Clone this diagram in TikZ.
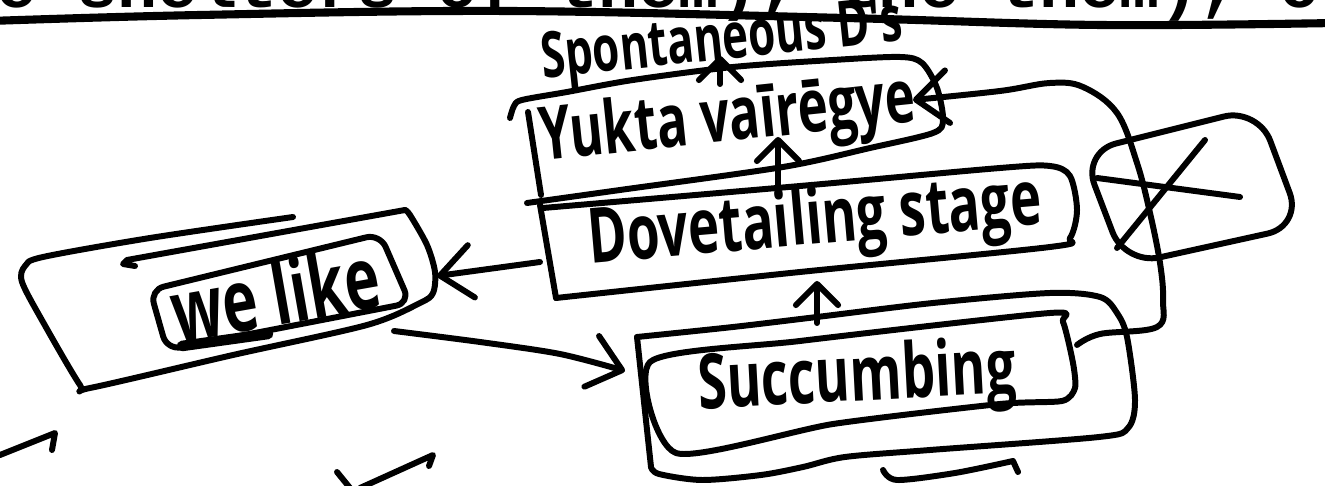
\documentclass[tikz,border=0pt]{standalone}
\usepackage{graphicx}
\usepackage{fontspec}
\usetikzlibrary{arrows.meta}
\newfontfamily\handfont{Open Sans}
\newfontfamily\printfont{Liberation Mono}
\newcommand{\tall}[1]{\scalebox{1}[1.45]{#1}}

\begin{document}
\begin{tikzpicture}[x=0.01cm, y=-0.01cm, line width=1.7pt, line cap=round, line join=round,
    hand/.style={font=\handfont\bfseries\fontsize{#1}{#1}\selectfont, inner sep=0pt},
    tip/.style={-{Straight Barb[round,length=6pt,width=12pt]}},
    bigtip/.style={-{Straight Barb[round,length=9pt,width=15pt]}}]

    \useasboundingbox (0,0) rectangle (1325,486);
    \clip (0,0) rectangle (1325,486);

    \node[anchor=base west, inner sep=0pt, font=\printfont\bfseries\fontsize{19}{19}\selectfont] (print) at (-6,8) {e shelters of them), the them), c};
    \draw[line width=2.3pt] plot[smooth, tension=0.6] coordinates {(-10,21) (200,15) (507,11) (845,18) (1100,25) (1335,23)};

    \node[hand=12.5, rotate=6] (spont) at (722,44) {\tall{Spontaneous D's}};

    \draw plot[smooth, tension=0.5] coordinates {(510,118) (514,106) (522,100) (567,92) (633,80) (733,67) (833,60) (900,57) (922,63) (937,88) (943,120) (933,133) (870,148) (783,167) (620,190) (527,203)};
    \draw (528,112) -- (541,195);
    \node[hand=14.5, rotate=6] (yukta) at (728,122) {\tall{Yukta vaīrēgye}};

    \coordinate (ykTop) at (720,84);
    \coordinate (spBot) at (720,56);
    \draw[tip] (ykTop) -- (spBot);

    \draw plot[smooth, tension=0.5] coordinates {(543,208) (800,186) (1000,168) (1050,166) (1070,176) (1077,210) (1070,238) (1050,247) (800,272) (556,298)};
    \draw (540,205) -- (556,298);
    \node[hand=15, rotate=5] (dove) at (815,224) {\tall{Dovetailing stage}};

    \coordinate (dvTop) at (778,187);
    \coordinate (ykBot) at (778,137);
    \draw[tip] (dvTop) -- (ykBot);

    \draw plot[smooth, tension=0.5] coordinates {(651,467) (659,474) (702,480) (761,475) (803,467) (845,457) (930,450) (1099,437) (1128,428) (1135,400) (1127,337) (1117,313) (1100,297) (1050,293) (933,303) (817,317) (733,327) (637,337)};
    \draw (637,337) -- (651,467);
    \draw plot[smooth cycle, tension=0.4] coordinates {(650,362) (800,341) (1050,313) (1063,322) (1073,363) (1075,388) (1062,401) (1000,404) (833,424) (676,453)};
    \node[hand=15, rotate=3] (succ) at (857,381) {\tall{Succumbing}};

    \coordinate (scTop) at (817,323);
    \coordinate (dvBot) at (817,281);
    \draw[tip] (scTop) -- (dvBot);

    \coordinate (scRight) at (1077,345);
    \coordinate (ykRight) at (913,100);
    \draw[bigtip] plot[smooth, tension=0.6] coordinates {(scRight) (1100,334) (1157,327) (1163,300) (1160,263) (1150,213) (1137,163) (1117,113) (1083,87) (1050,83) (1000,91) (ykRight)};

    \draw[rounded corners=10pt] (1082,152) -- (1258,108) -- (1302,226) -- (1125,265) -- cycle;
    \draw (1097,178) -- (1240,197);
    \draw (1117,248) -- (1205,140);

    \draw plot[smooth, tension=0.5] coordinates {(293,217) (150,238) (43,257) (25,266) (22,282) (43,322) (80,385) (90,388) (233,355) (367,325) (420,303) (433,293) (435,272) (427,245) (410,215) (405,210)};
    \draw (405,210) -- (127,260) -- (123,264) -- (135,266);
    \draw[rounded corners=4pt] (150,290) -- (380,234) -- (410,303) -- (167,350) -- cycle;
    \draw[line width=3pt] (182,346) -- (268,334);
    \node[hand=17, rotate=10] (welike) at (275,293) {\tall{we like}};

    \coordinate (dvLeft) at (540,262);
    \coordinate (wlRight) at (437,276);
    \draw[bigtip] (dvLeft) -- (wlRight);

    \coordinate (wlLow) at (394,331);
    \coordinate (scLeft) at (625,371);
    \draw[bigtip] plot[smooth] coordinates {(wlLow) (480,342) (560,354) (scLeft)};

    \draw (0,455) -- (55,433) -- (52,450);
    \draw (337,472) -- (350,488);
    \draw (360,488) -- (433,455) -- (429,466);
    \draw plot[smooth] coordinates {(883,470) (897,480) (955,473) (1013,461)} -- (1018,472);

\end{tikzpicture}
\end{document}
